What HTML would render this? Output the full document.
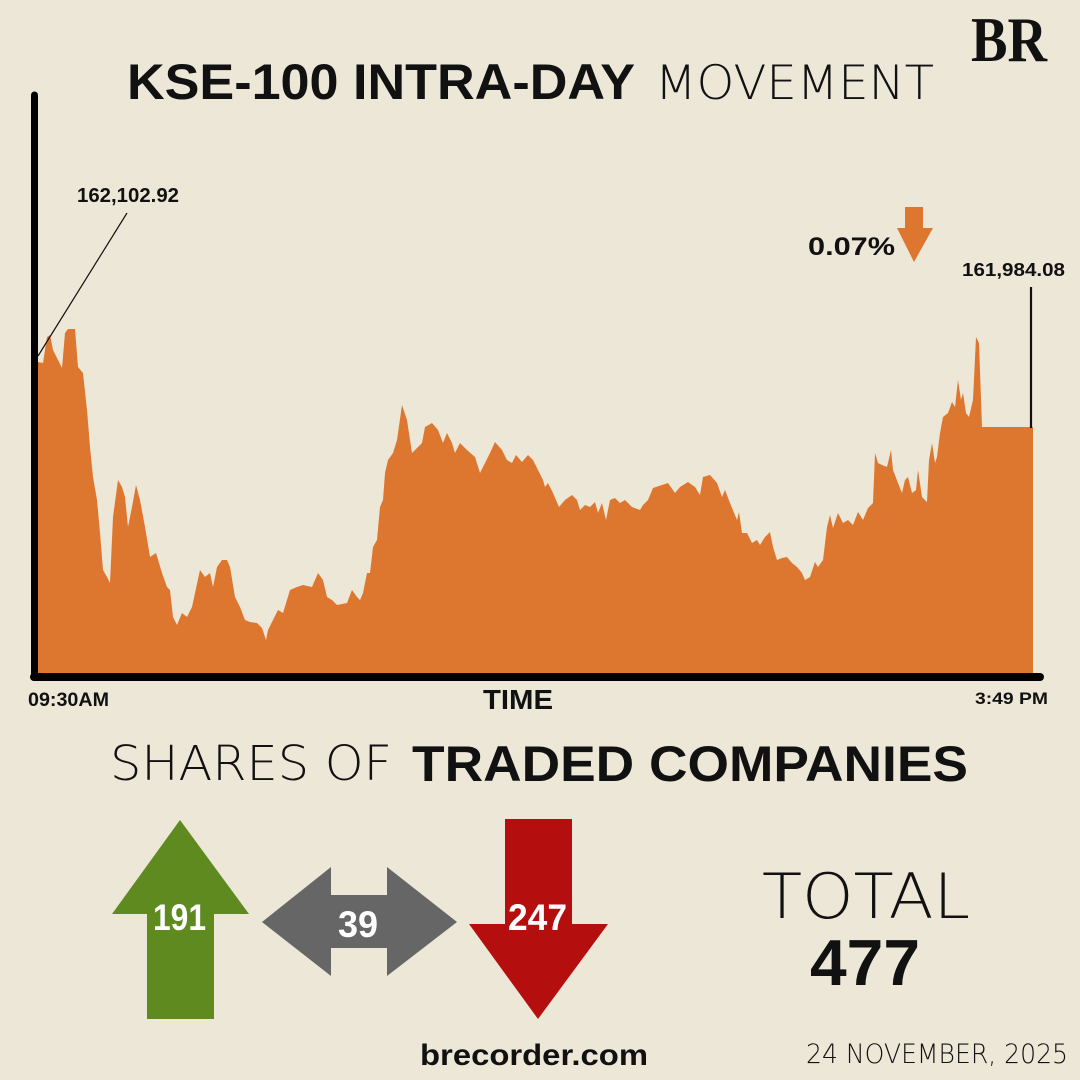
<!DOCTYPE html>
<html>
<head>
<meta charset="utf-8">
<style>
html,body{margin:0;padding:0;background:#ede7d8;}
svg{display:block;}
.b{font-family:"Liberation Sans",Arial,sans-serif;font-weight:700;}
.t{font-family:"DejaVu Sans","Liberation Sans",sans-serif;font-weight:200;}
</style>
</head>
<body>
<svg width="1080" height="1080" viewBox="0 0 1080 1080" xmlns="http://www.w3.org/2000/svg">
<rect x="0" y="0" width="1080" height="1080" fill="#ede7d8"/>

<!-- BR logo -->
<text x="971" y="61" font-family="Liberation Serif, serif" font-weight="700" font-size="64" textLength="76" lengthAdjust="spacingAndGlyphs" fill="#111">BR</text>

<!-- Title -->
<text class="b" x="127" y="99" font-size="50" textLength="508" lengthAdjust="spacingAndGlyphs" fill="#111">KSE-100 INTRA-DAY</text>
<text class="t" x="655" y="99" font-size="47" textLength="279" lengthAdjust="spacingAndGlyphs" fill="#111">MOVEMENT</text>

<!-- Area series -->
<path fill="#dd762e" d="M38,673 L38,362 L43,363 L47,337 L50,335 L53,350 L57,358 L62,368 L65,333 L68,329 L75,329 L78,367 L83,373 L87,410 L90,447 L93,477 L97,500 L100,533 L103,570 L107,577 L110,583 L113,517 L118,480 L122,487 L125,497 L128,527 L132,507 L136,485 L140,500 L145,527 L150,557 L156,553 L162,573 L167,587 L170,590 L173,617 L177,625 L182,613 L187,617 L192,607 L195,593 L200,570 L205,577 L210,573 L213,587 L217,567 L222,560 L227,560 L230,567 L235,597 L240,607 L245,620 L250,622 L257,623 L262,628 L266,640 L268,630 L273,620 L278,610 L283,613 L290,590 L297,587 L303,585 L312,587 L318,573 L323,580 L327,597 L332,600 L337,605 L347,603 L352,590 L357,597 L360,600 L363,593 L367,573 L370,573 L373,547 L377,540 L380,507 L383,500 L385,473 L388,460 L393,453 L397,440 L402,405 L407,420 L412,453 L417,448 L422,443 L425,427 L432,423 L438,430 L443,443 L447,433 L452,443 L455,453 L460,443 L467,450 L475,457 L480,473 L485,463 L490,453 L495,442 L502,450 L507,460 L512,463 L516,455 L522,462 L528,455 L533,460 L538,470 L543,480 L545,487 L548,483 L553,493 L559,507 L565,500 L572,495 L577,500 L580,510 L585,505 L590,507 L595,502 L598,513 L602,503 L606,520 L610,500 L615,498 L620,503 L625,500 L632,507 L640,510 L643,505 L648,500 L653,488 L662,485 L668,483 L675,493 L680,487 L688,482 L695,487 L700,495 L703,477 L710,475 L717,483 L722,497 L725,490 L730,503 L737,520 L739,512 L742,533 L747,533 L752,543 L757,540 L760,545 L765,537 L770,532 L773,547 L777,560 L782,558 L787,557 L792,563 L797,567 L802,573 L805,580 L810,577 L815,562 L818,567 L823,560 L827,527 L830,515 L833,528 L838,513 L843,523 L848,520 L853,525 L858,512 L863,520 L868,508 L873,503 L875,453 L878,463 L882,465 L887,467 L891,450 L893,470 L898,483 L902,493 L905,480 L908,477 L912,493 L916,490 L918,470 L922,497 L927,502 L929,460 L932,443 L935,463 L937,457 L940,433 L943,417 L948,413 L952,402 L955,407 L958,380 L961,400 L963,393 L966,413 L969,417 L973,400 L976,337 L979,343 L982,427 L1033,427 L1033,673 Z"/>

<!-- Axes -->
<line x1="34.5" y1="95" x2="34.5" y2="677" stroke="#000" stroke-width="7" stroke-linecap="round"/>
<line x1="34" y1="677" x2="1040" y2="677" stroke="#000" stroke-width="8" stroke-linecap="round"/>

<!-- Start label + leader -->
<text class="b" x="77" y="202" font-size="20" textLength="102" lengthAdjust="spacingAndGlyphs" fill="#111">162,102.92</text>
<line x1="127" y1="213" x2="38" y2="356" stroke="#111" stroke-width="1.2"/>

<!-- Change label -->
<text class="b" x="808" y="255" font-size="25" textLength="87" lengthAdjust="spacingAndGlyphs" fill="#111">0.07%</text>
<polygon points="905,207 923,207 923,228 933,228 914,262 897,228 905,228" fill="#dd762e"/>

<!-- End label + line -->
<text class="b" x="962" y="276" font-size="18" textLength="103" lengthAdjust="spacingAndGlyphs" fill="#111">161,984.08</text>
<line x1="1031" y1="287" x2="1031" y2="428" stroke="#111" stroke-width="2.2"/>

<!-- X labels -->
<text class="b" x="28" y="706" font-size="19" textLength="81" lengthAdjust="spacingAndGlyphs" fill="#111">09:30AM</text>
<text class="b" x="483" y="709" font-size="28" textLength="70" lengthAdjust="spacingAndGlyphs" fill="#111">TIME</text>
<text class="b" x="975" y="704" font-size="17" textLength="73" lengthAdjust="spacingAndGlyphs" fill="#111">3:49 PM</text>

<!-- Section title -->
<text class="t" x="110" y="780" font-size="48" textLength="282" lengthAdjust="spacingAndGlyphs" fill="#111">SHARES OF</text>
<text class="b" x="412" y="781" font-size="50" textLength="556" lengthAdjust="spacingAndGlyphs" fill="#111">TRADED COMPANIES</text>

<!-- Green up arrow -->
<polygon points="180,820 249,914 214,914 214,1019 147,1019 147,914 112,914" fill="#5f8a1f"/>
<text class="b" x="153" y="930" font-size="37" textLength="53" lengthAdjust="spacingAndGlyphs" fill="#fff">191</text>

<!-- Gray double arrow -->
<polygon points="262,922 331,867 331,895 387,895 387,867 457,922 387,976 387,948 331,948 331,976" fill="#666666"/>
<text class="b" x="338" y="937" font-size="37" textLength="40" lengthAdjust="spacingAndGlyphs" fill="#fff">39</text>

<!-- Red down arrow -->
<polygon points="505,819 572,819 572,924 608,924 538,1019 469,924 505,924" fill="#b50e0e"/>
<text class="b" x="508" y="930" font-size="37" textLength="59" lengthAdjust="spacingAndGlyphs" fill="#fff">247</text>

<!-- Total -->
<text class="t" x="762" y="918" font-size="62" textLength="208" lengthAdjust="spacingAndGlyphs" fill="#111">TOTAL</text>
<text class="b" x="810" y="985" font-size="65" textLength="110" lengthAdjust="spacingAndGlyphs" fill="#111">477</text>

<!-- Footer -->
<text class="b" x="420" y="1065" font-size="30" textLength="228" lengthAdjust="spacingAndGlyphs" fill="#111">brecorder.com</text>
<text class="t" x="806" y="1063" font-size="27" textLength="262" lengthAdjust="spacingAndGlyphs" fill="#111">24 NOVEMBER, 2025</text>
</svg>
</body>
</html>
